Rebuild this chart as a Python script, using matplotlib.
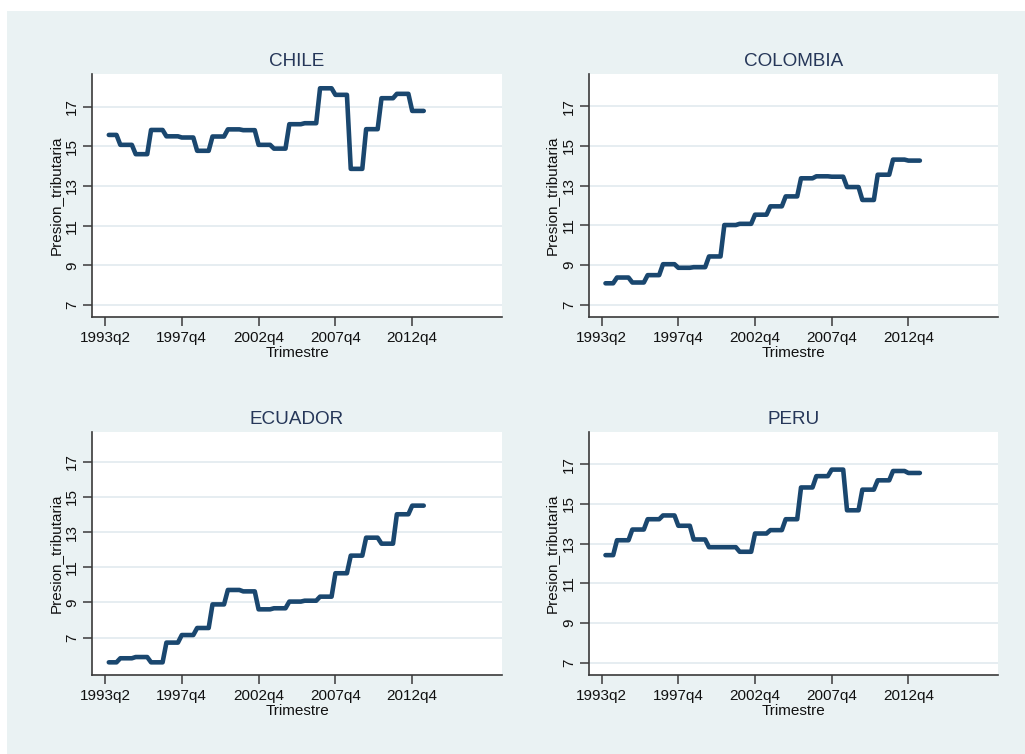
import matplotlib
matplotlib.use("Agg")
import matplotlib.pyplot as plt
from matplotlib.patches import Rectangle

plt.rcParams['font.family'] = ['Liberation Sans', 'DejaVu Sans']

# Quarter index: 1 = 1993q2 ... 83 = 2013q4
trimestre = list(range(1, 84))
tick_pos = [0, 20, 40, 60, 80]
tick_labels = ["1993q2", "1997q4", "2002q4", "2007q4", "2012q4"]
y_ticks = [7, 9, 11, 13, 15, 17]

chile = [
    15.57, 15.57, 15.57,
    15.07, 15.07, 15.07, 15.07,
    14.60, 14.60, 14.60, 14.60,
    15.82, 15.82, 15.82, 15.82,
    15.50, 15.50, 15.50, 15.50,
    15.44, 15.44, 15.44, 15.44,
    14.77, 14.77, 14.77, 14.77,
    15.49, 15.49, 15.49, 15.49,
    15.85, 15.85, 15.85, 15.85,
    15.81, 15.81, 15.81, 15.81,
    15.07, 15.07, 15.07, 15.07,
    14.88, 14.88, 14.88, 14.88,
    16.11, 16.11, 16.11, 16.11,
    16.16, 16.16, 16.16, 16.16,
    17.92, 17.92, 17.92, 17.92,
    17.59, 17.59, 17.59, 17.59,
    13.86, 13.86, 13.86, 13.86,
    15.86, 15.86, 15.86, 15.86,
    17.42, 17.42, 17.42, 17.42,
    17.64, 17.64, 17.64, 17.64,
    16.78, 16.78, 16.78, 16.78,
]

colombia = [
    8.09, 8.09, 8.09,
    8.38, 8.38, 8.38, 8.38,
    8.13, 8.13, 8.13, 8.13,
    8.50, 8.50, 8.50, 8.50,
    9.05, 9.05, 9.05, 9.05,
    8.87, 8.87, 8.87, 8.87,
    8.90, 8.90, 8.90, 8.90,
    9.44, 9.44, 9.44, 9.44,
    11.02, 11.02, 11.02, 11.02,
    11.08, 11.08, 11.08, 11.08,
    11.54, 11.54, 11.54, 11.54,
    11.96, 11.96, 11.96, 11.96,
    12.46, 12.46, 12.46, 12.46,
    13.37, 13.37, 13.37, 13.37,
    13.47, 13.47, 13.47, 13.47,
    13.45, 13.45, 13.45, 13.45,
    12.93, 12.93, 12.93, 12.93,
    12.28, 12.28, 12.28, 12.28,
    13.55, 13.55, 13.55, 13.55,
    14.31, 14.31, 14.31, 14.31,
    14.26, 14.26, 14.26, 14.26,
]

ecuador = [
    5.60, 5.60, 5.60,
    5.83, 5.83, 5.83, 5.83,
    5.90, 5.90, 5.90, 5.90,
    5.60, 5.60, 5.60, 5.60,
    6.72, 6.72, 6.72, 6.72,
    7.15, 7.15, 7.15, 7.15,
    7.55, 7.55, 7.55, 7.55,
    8.89, 8.89, 8.89, 8.89,
    9.71, 9.71, 9.71, 9.71,
    9.63, 9.63, 9.63, 9.63,
    8.61, 8.61, 8.61, 8.61,
    8.67, 8.67, 8.67, 8.67,
    9.05, 9.05, 9.05, 9.05,
    9.10, 9.10, 9.10, 9.10,
    9.33, 9.33, 9.33, 9.33,
    10.66, 10.66, 10.66, 10.66,
    11.66, 11.66, 11.66, 11.66,
    12.68, 12.68, 12.68, 12.68,
    12.34, 12.34, 12.34, 12.34,
    14.01, 14.01, 14.01, 14.01,
    14.50, 14.50, 14.50, 14.50,
]

peru = [
    12.42, 12.42, 12.42,
    13.17, 13.17, 13.17, 13.17,
    13.71, 13.71, 13.71, 13.71,
    14.23, 14.23, 14.23, 14.23,
    14.42, 14.42, 14.42, 14.42,
    13.90, 13.90, 13.90, 13.90,
    13.21, 13.21, 13.21, 13.21,
    12.82, 12.82, 12.82, 12.82,
    12.82, 12.82, 12.82, 12.82,
    12.59, 12.59, 12.59, 12.59,
    13.51, 13.51, 13.51, 13.51,
    13.68, 13.68, 13.68, 13.68,
    14.23, 14.23, 14.23, 14.23,
    15.83, 15.83, 15.83, 15.83,
    16.40, 16.40, 16.40, 16.40,
    16.73, 16.73, 16.73, 16.73,
    14.68, 14.68, 14.68, 14.68,
    15.72, 15.72, 15.72, 15.72,
    16.19, 16.19, 16.19, 16.19,
    16.66, 16.66, 16.66, 16.66,
    16.56, 16.56, 16.56, 16.56,
]

countries = ["CHILE", "COLOMBIA", "ECUADOR", "PERU"]
series = [chile, colombia, ecuador, peru]
ylims = [(6.38, 18.64), (6.38, 18.64), (4.88, 18.70), (6.38, 18.64)]

BG = "#EAF2F3"
LINE = "#1A476F"
GRID = "#E4ECF0"
AXC = "#3A3A3A"
TITLEC = "#263759"

W, H = 1025, 754
fig = plt.figure(figsize=(W / 100, H / 100), dpi=100, facecolor="white")
bg = Rectangle((7 / W, 0), 1 - 7 / W, 1 - 11 / H, transform=fig.transFigure,
               facecolor=BG, edgecolor="none", zorder=-10)
fig.add_artist(bg)

# axes boxes in pixels: left, right, top, bottom
boxes = [(92.3, 501.7, 74.0, 317.3), (589.0, 997.7, 73.5, 317.3),
         (92.3, 501.7, 431.7, 675.0), (589.0, 997.7, 431.7, 675.0)]

for name, vals, yl, (l, r, t, b) in zip(countries, series, ylims, boxes):
    ax = fig.add_axes([l / W, 1 - b / H, (r - l) / W, (b - t) / H])
    ax.set_zorder(1)
    ax.set_facecolor("white")
    ax.plot(trimestre, vals, color=LINE, lw=3.3, solid_capstyle="round", solid_joinstyle="round",
            zorder=3)
    ax.set_xlim(-3.3, 103.3)
    ax.set_ylim(*yl)
    ax.set_xticks(tick_pos)
    ax.set_xticklabels(tick_labels)
    ax.set_yticks(y_ticks)
    ax.set_yticklabels([str(v) for v in y_ticks], rotation=90, va="center")
    ax.grid(axis="y", color=GRID, lw=1.3, zorder=1)
    ax.set_axisbelow(True)
    for s in ["top", "right"]:
        ax.spines[s].set_visible(False)
    for s in ["left", "bottom"]:
        ax.spines[s].set_color(AXC)
        ax.spines[s].set_linewidth(1.2)
    ax.tick_params(axis="both", direction="out", length=6.2, width=1.1, color=AXC,
                   labelsize=11, labelcolor="#111111")
    ax.tick_params(axis="x", pad=3.8)
    ax.tick_params(axis="y", pad=3.2)
    ax.set_xlabel("Trimestre", fontsize=11, labelpad=0.5, color="#111111")
    ax.set_ylabel("Presion_tributaria", fontsize=11, labelpad=2, color="#111111")
    ax.set_title(name, fontsize=13.6, color=TITLEC, pad=5.5)

fig.savefig("out.png", dpi=100, facecolor="white")
